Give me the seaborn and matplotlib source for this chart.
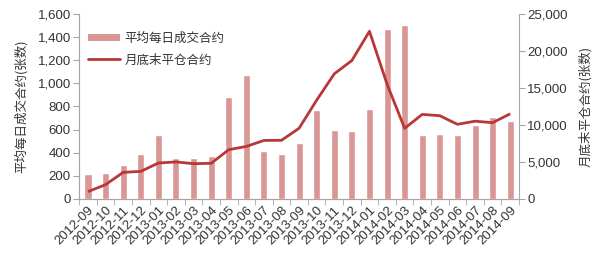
import matplotlib
matplotlib.use("Agg")
import matplotlib.pyplot as plt
import seaborn as sns
import numpy as np
from matplotlib.ticker import FuncFormatter, FixedLocator
from matplotlib.patches import Patch
from matplotlib.lines import Line2D

months = ["2012-09", "2012-10", "2012-11", "2012-12", "2013-01", "2013-02", "2013-03",
          "2013-04", "2013-05", "2013-06", "2013-07", "2013-08", "2013-09", "2013-10",
          "2013-11", "2013-12", "2014-01", "2014-02", "2014-03", "2014-04", "2014-05",
          "2014-06", "2014-07", "2014-08", "2014-09"]
avg_daily_volume = [218, 228, 292, 390, 553, 350, 350, 375, 882, 1070, 413, 390, 482, 768,
                    600, 583, 778, 1465, 1508, 555, 562, 555, 635, 712, 670]
month_end_oi = [985, 1930, 3590, 3720, 4850, 5000, 4760, 4810, 6650, 7090, 7900, 7920, 9550,
                13350, 16900, 18700, 22650, 15500, 9540, 11420, 11240, 10080, 10500, 10300, 11500]

bar_label = "平均每日成交合约"
line_label = "月底末平仓合约"
left_ylabel = "平均每日成交合约(张数)"
right_ylabel = "月底末平仓合约(张数)"

sns.set_style("white")
plt.rcParams['font.family'] = ['Liberation Sans', 'Noto Sans CJK SC', 'DejaVu Sans']
cjk = ['Noto Sans CJK SC', 'DejaVu Sans']

bar_color = "#D99694"
line_color = "#B8383A"
spine_color = "#A6A6A6"
text_color = "#333333"

fig = plt.figure(figsize=(6.0, 2.57), dpi=100)
ax = fig.add_axes([0.132, 0.226, 0.733, 0.72])

sns.barplot(x=months, y=avg_daily_volume, color=bar_color, width=0.4, ax=ax,
            saturation=1)
ax2 = ax.twinx()
sns.pointplot(x=months, y=month_end_oi, color=line_color, markers="", linestyles="-",
              ax=ax2, errorbar=None)
for l in ax2.lines:
    l.set_linewidth(2.0)
    l.set_solid_capstyle("butt")
for a in (ax, ax2):
    if a.get_legend() is not None:
        a.get_legend().remove()

ax.set_xlim(-0.5, len(months) - 0.5)
ax.set_ylim(0, 1600)
ax2.set_ylim(0, 25000)
ax.set_yticks(np.arange(0, 1601, 200))
ax2.set_yticks(np.arange(0, 25001, 5000))
fmt = FuncFormatter(lambda v, p: f"{int(v):,}")
ax.yaxis.set_major_formatter(fmt)
ax2.yaxis.set_major_formatter(fmt)

ax.set_xticks(range(len(months)))
ax.set_xticklabels(months, rotation=45, ha="right", rotation_mode="anchor", fontsize=9.5,
                   color=text_color)
ax.xaxis.set_minor_locator(FixedLocator(np.arange(-0.5, len(months), 1.0)))
ax.tick_params(axis="x", which="major", length=0, pad=4)
ax.tick_params(axis="x", which="minor", length=4, color=spine_color, direction="out", bottom=True)
ax.tick_params(axis="y", length=4, color=spine_color, direction="out", labelsize=9.5,
               labelcolor=text_color, left=True, pad=2)
ax2.tick_params(axis="y", length=4, color=spine_color, direction="out", labelsize=9.5,
                labelcolor=text_color, right=True, pad=2)
ax2.tick_params(axis="x", which="both", length=0, labelbottom=False)

ax.set_xlabel("")
ax2.set_xlabel("")
ax.set_ylabel(left_ylabel, family=cjk, fontsize=9, labelpad=7, color=text_color)
ax2.set_ylabel(right_ylabel, family=cjk, fontsize=9, rotation=90, labelpad=8, color=text_color)

for a in (ax, ax2):
    a.spines["top"].set_visible(False)
    for s in ("left", "right", "bottom"):
        a.spines[s].set_color(spine_color)
        a.spines[s].set_linewidth(0.8)
    a.grid(False)
ax.spines["right"].set_visible(False)

handles = [Patch(facecolor=bar_color, edgecolor="none"),
           Line2D([0], [0], color=line_color, linewidth=2.0)]
leg = ax2.legend(handles, [bar_label, line_label], loc="upper left",
                 bbox_to_anchor=(0.0, 0.95), frameon=False,
                 prop={'family': cjk, 'size': 9}, handlelength=2.6, handleheight=0.6,
                 labelspacing=0.7, borderaxespad=0.3, handletextpad=0.3)
for t in leg.get_texts():
    t.set_color(text_color)
ax2.set_zorder(ax.get_zorder() + 1)
ax2.patch.set_visible(False)
fig.patch.set_facecolor("white")

fig.savefig("out.png", dpi=100, facecolor="white")
